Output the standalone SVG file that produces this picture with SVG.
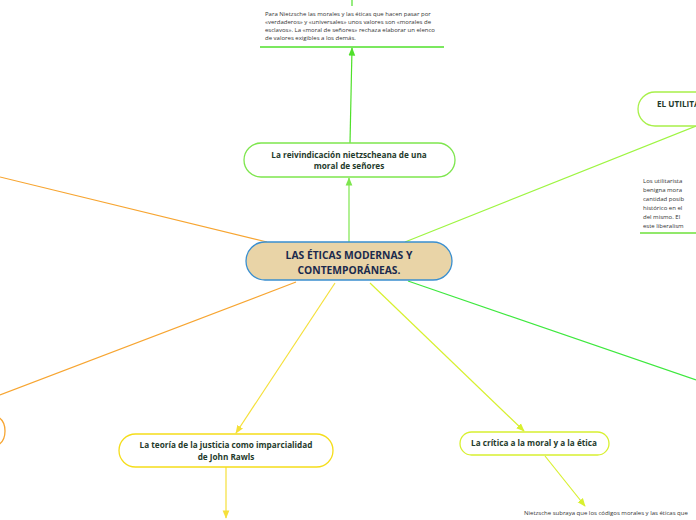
<svg xmlns="http://www.w3.org/2000/svg" width="696" height="520" viewBox="0 0 696 520">
<defs>
<style>
.t{font-family:"Open Sans","Noto Sans",sans-serif;font-weight:bold;fill:#1f3b2c;font-size:8.2px;text-anchor:middle}
.s{font-family:"Open Sans","Noto Sans",sans-serif;fill:#333;font-size:6px}
.c{fill:none;stroke-width:1.2}
.n{fill:#fff;stroke-width:1.3}
</style>
<marker id="ag" viewBox="0 0 10 10" refX="9" refY="5" markerWidth="7" markerHeight="7" orient="auto"><path d="M0,1L10,5L0,9z" fill="#7ee64e"/></marker>
<marker id="ag2" viewBox="0 0 10 10" refX="9" refY="5" markerWidth="7" markerHeight="7" orient="auto"><path d="M0,1L10,5L0,9z" fill="#4fe02a"/></marker>
<marker id="ay" viewBox="0 0 10 10" refX="9" refY="5" markerWidth="7" markerHeight="7" orient="auto"><path d="M0,1L10,5L0,9z" fill="#f5e03a"/></marker>
<marker id="al" viewBox="0 0 10 10" refX="9" refY="5" markerWidth="7" markerHeight="7" orient="auto"><path d="M0,1L10,5L0,9z" fill="#d8f030"/></marker>
</defs>
<g id="connectors">
<line class="c" x1="267" y1="242" x2="0" y2="177" stroke="#f7a531"/>
<line class="c" x1="296" y1="282" x2="0" y2="395" stroke="#f7a531"/>
<line class="c" x1="349" y1="242" x2="349" y2="178" stroke="#7ee64e" marker-end="url(#ag)"/>
<line class="c" x1="350" y1="143" x2="352" y2="48" stroke="#4fe02a" marker-end="url(#ag2)"/>
<line class="c" x1="352" y1="0" x2="352" y2="6" stroke="#4fe02a"/>
<line class="c" x1="405" y1="242" x2="696" y2="126" stroke="#9ef542"/>
<line class="c" x1="408" y1="281" x2="696" y2="380" stroke="#3ee83e"/>
<line class="c" x1="335" y1="283" x2="236" y2="433" stroke="#f5e03a" marker-end="url(#ay)"/>
<line class="c" x1="226" y1="467" x2="226" y2="518" stroke="#f5e03a" marker-end="url(#ay)"/>
<line class="c" x1="370" y1="283" x2="524" y2="431" stroke="#d8f030" marker-end="url(#al)"/>
<line class="c" x1="545" y1="456" x2="585" y2="506" stroke="#d8f030" marker-end="url(#al)"/>
</g>
<g id="central">
<rect x="246" y="242" width="206" height="38" rx="19" fill="#e9d4a7" stroke="#3a8fd0" stroke-width="1.3"/>
<text class="t" x="349" y="259" style="fill:#1b2a4d;font-size:10.3px">LAS ÉTICAS MODERNAS Y</text>
<text class="t" x="349" y="274" style="fill:#1b2a4d;font-size:10.3px">CONTEMPORÁNEAS.</text>
</g>
<g id="nietzsche">
<rect class="n" x="244" y="143" width="211" height="34" rx="17" stroke="#7ee64e"/>
<text class="t" x="349" y="158">La reivindicación nietzscheana de una</text>
<text class="t" x="349" y="169">moral de señores</text>
</g>
<g id="nietzsche-text">
<text class="s" x="265" y="16">Para Nietzsche las morales y las éticas que hacen pasar por</text>
<text class="s" x="265" y="24">«verdaderos» y «universales» unos valores son «morales de</text>
<text class="s" x="265" y="32">esclavos». La «moral de señores» rechaza elaborar un elenco</text>
<text class="s" x="265" y="40">de valores exigibles a los demás.</text>
<line x1="260" y1="47" x2="444" y2="47" stroke="#4fe02a" stroke-width="1.3"/>
</g>
<g id="utilitarismo">
<rect class="n" x="638" y="92" width="80" height="34" rx="17" stroke="#a8f04a"/>
<text class="t" x="657" y="107" style="text-anchor:start">EL UTILITA</text>
</g>
<g id="utilitarismo-text">
<text class="s" x="643" y="183">Los utilitarista</text>
<text class="s" x="643" y="192">benigna mora</text>
<text class="s" x="643" y="201">cantidad posib</text>
<text class="s" x="643" y="210">histórico en el</text>
<text class="s" x="643" y="219">del mismo. El</text>
<text class="s" x="643" y="228">este liberalism</text>
<line x1="640" y1="233" x2="696" y2="233" stroke="#6de03a" stroke-width="1.3"/>
</g>
<g id="orange-node">
<path d="M-10,415 Q5,416 5,431 Q5,446 -10,447" fill="#fff" stroke="#f7a531" stroke-width="1.3"/>
</g>
<g id="rawls">
<rect class="n" x="119" y="434" width="214" height="33" rx="16.5" stroke="#f5dd1a"/>
<text class="t" x="226" y="448">La teoría de la justicia como imparcialidad</text>
<text class="t" x="226" y="460">de John Rawls</text>
</g>
<g id="critica">
<rect class="n" x="460" y="432" width="149" height="23" rx="11.5" stroke="#d8f030"/>
<text class="t" x="534" y="446">La crítica a la moral y a la ética</text>
</g>
<g id="critica-text">
<text class="s" x="524" y="515">Nietzsche subraya que los códigos morales y las éticas que</text>
</g>
</svg>
